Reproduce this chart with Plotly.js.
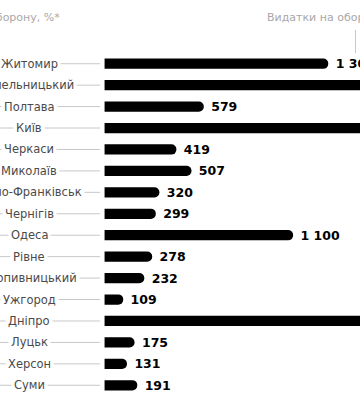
<!DOCTYPE html>
<html>
<head>
<meta charset="utf-8">
<script src="https://cdn.plot.ly/plotly-3.0.1.min.js"></script>
<style>html,body{margin:0;padding:0;background:#fff}#chart{width:360px;height:400px}</style>
</head>
<body>
<div id="chart"></div>
<script>
// Data (clipped bars are estimates)
var cities = ["Житомир","Хмельницький","Полтава","Київ","Черкаси","Миколаїв","Івано-Франківськ","Чернігів","Одеса","Рівне","Кропивницький","Ужгород","Дніпро","Луцьк","Херсон","Суми"];
var spending = [1305, 1650, 579, 2400, 419, 507, 320, 299, 1100, 278, 232, 109, 2000, 175, 131, 191];
var leftHeader = "Частка видатків на оборону, %*";
var rightHeader = "Видатки на оборону, млн грн";

var trace = {
  type: "bar",
  orientation: "h",
  y: cities,
  x: spending,
  width: 0.48,
  marker: {color: "#000000", cornerradius: 5},
  texttemplate: "\u00a0%{x:,}",
  textposition: "outside",
  constraintext: "none",
  cliponaxis: true,
  textfont: {family: "DejaVu Sans", size: 12.5, color: "#000", weight: 700},
  hoverinfo: "skip"
};

var shapes = cities.map(function (c) {
  return {type: "line", xref: "x", yref: "y", x0: -610, x1: -26, y0: c, y1: c,
          line: {color: "#c8c8c8", width: 1}, layer: "below"};
});
shapes.push({type: "line", xref: "paper", yref: "paper", x0: 355.5/360, x1: 355.5/360,
  y0: 1, y1: 1 + 23/343, line: {color: "#c8c8c8", width: 1}});

var annotations = cities.map(function (c) {
  return {xref: "paper", yref: "y", x: 29/360, y: c, text: c, showarrow: false,
          xanchor: "center", yanchor: "middle", bgcolor: "#ffffff", borderpad: 2,
          font: {family: "DejaVu Sans", size: 11.5, color: "#4a4a4a"}};
});
annotations.push({xref: "paper", yref: "paper", x: 62/360, y: 1 + 36/343, xanchor: "right", yanchor: "middle",
  text: leftHeader, showarrow: false, font: {family: "DejaVu Sans", size: 11, color: "#a8a8a8"}});
annotations.push({xref: "paper", yref: "paper", x: 265/360, y: 1 + 36/343, xanchor: "left", yanchor: "middle",
  text: rightHeader, showarrow: false, font: {family: "DejaVu Sans", size: 11, color: "#a8a8a8"}});

var layout = {
  width: 360, height: 400,
  margin: {l: 0, r: 0, t: 53, b: 4, pad: 0},
  paper_bgcolor: "#ffffff", plot_bgcolor: "#ffffff",
  separators: ", ",
  showlegend: false,
  xaxis: {range: [-610, 1490], visible: false, fixedrange: true},
  yaxis: {autorange: "reversed", visible: false, fixedrange: true, type: "category"},
  shapes: shapes,
  annotations: annotations
};

Plotly.newPlot("chart", [trace], layout, {staticPlot: true, displayModeBar: false});
</script>
</body>
</html>
